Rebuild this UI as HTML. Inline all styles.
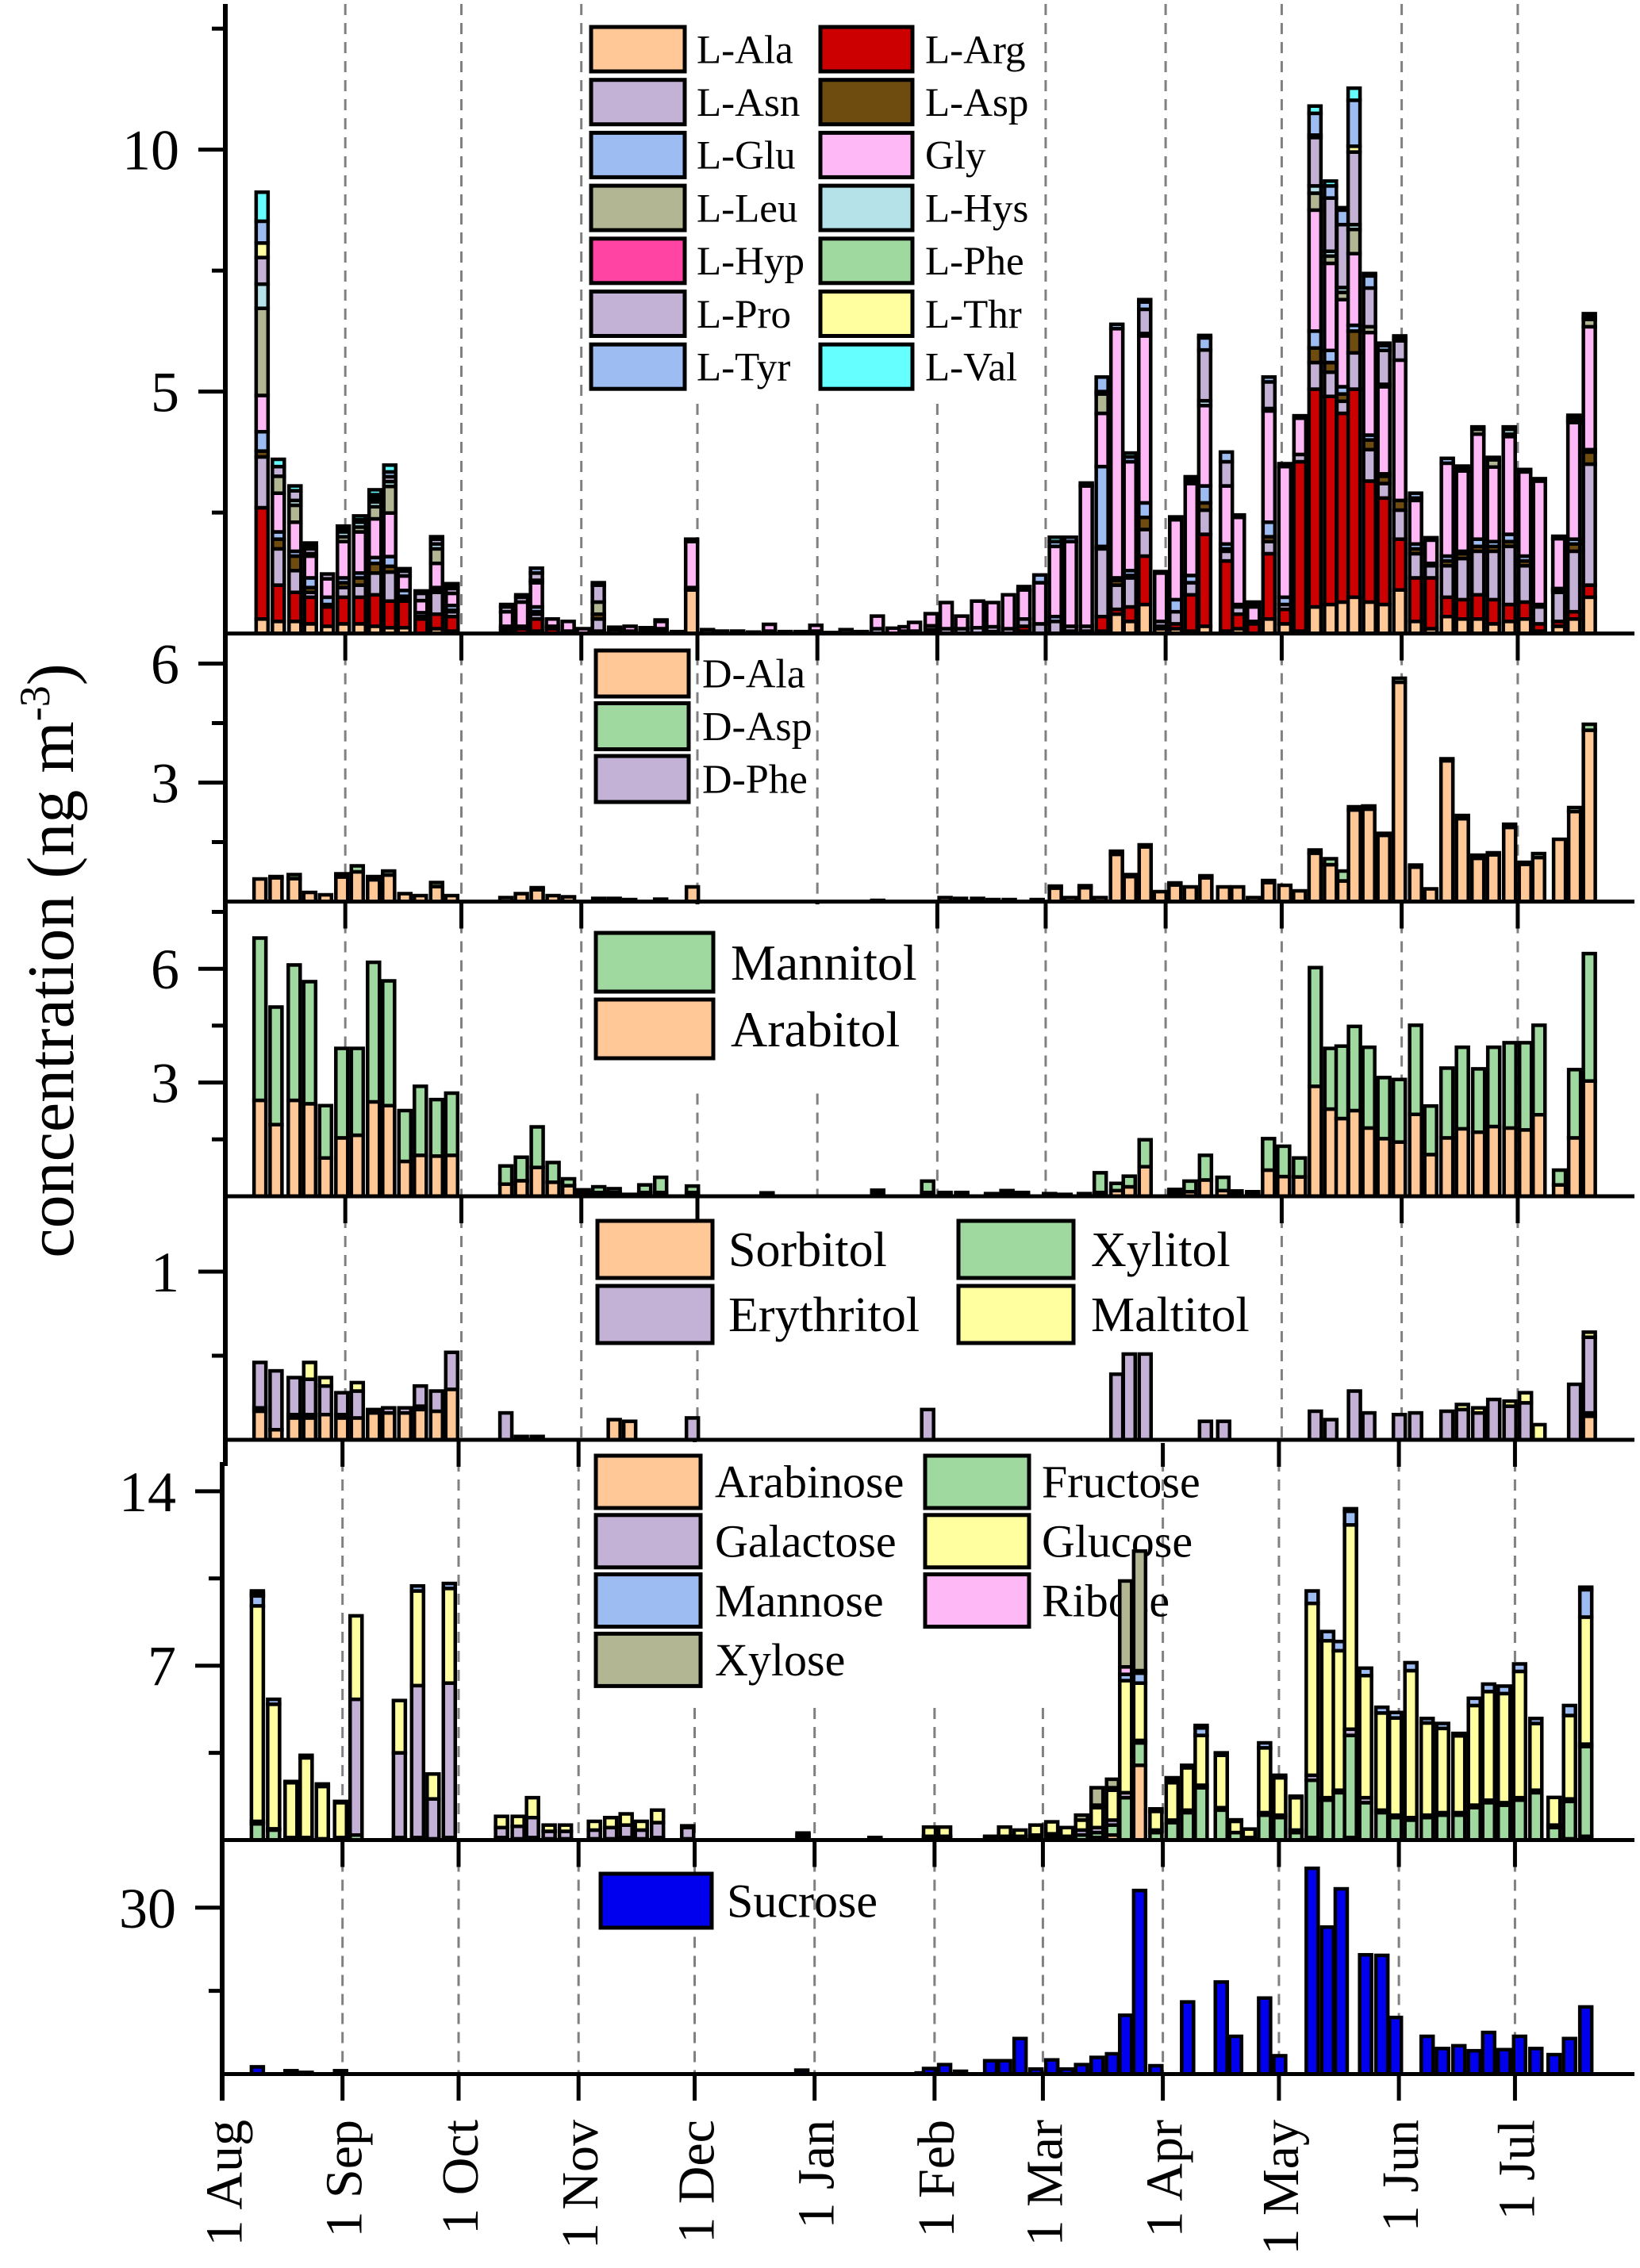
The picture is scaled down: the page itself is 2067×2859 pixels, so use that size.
<!DOCTYPE html>
<html><head><meta charset="utf-8">
<style>
html,body{margin:0;padding:0;background:#fff;}
svg{display:block;font-family:"Liberation Serif",serif;}
</style></head>
<body>
<svg id="chart" xmlns="http://www.w3.org/2000/svg" width="2067" height="2859" viewBox="0 0 2067 2859"></svg>
<script>
// ---------- Panel 1: L-amino acids ----------
const p1Days=[9.5,13.7,18,22,26.4,30.5,34.7,38.7,42.5,46.2,50.6,54.6,58.6, 72.7,76.6,80.4,84.5,88.6,92.5,96.4,100.6,104.6,108.7,112.6,116.8,120.5, 124.6,128.3,132.4,136.5,140.6,144.7,148.8,152.6,156.5,160.4,164.4,168.5,172.6,175.7,178.1,182.4,186.3,190.3,194.4,198.3,202.4, 206.4,210.5,214.5,218.4,222.5,226.6,230.4,233.8,237.6,241.7,245.6,249.6,253.1,258.7,261.8,265.7,269.7,273.8,277.7,281.6,285.6,288.8,291.7,295.7,299.4,303.5,307.6,311.6,315.8,319.7,323.7,327.7,331.8,335.8,339.6,344.6,348.5,352.5];
const lAla=[.3,.25,.25,.2,.15,.2,.2,.15,.12,.12,0,.1,.05, 0,0,.05,0,0,0,0,0,.05,0,0,0,.9, 0,0,0,0,0,0,0,0,0,0,0,0,0,0,0,0,0,0,0,0,0, .05,0,0,.05,.05,.05,.4,.25,.6,.1,.1,.05,.15,.05,.1,0,.3,.2,.05,.55,.6,.65,.75,.65,.6,.9,.25,.1,.35,.3,.3,.2,.25,.3,.05,.15,.3,.75];
const lArg=[2.3,.75,.6,.55,.4,.55,.55,.65,.55,.55,.3,.3,.3, .05,.1,.25,.1,0,0,.05,0,0,.05,0,0,0, 0,0,0,0,0,0,0,0,0,0,0,0,0,0,0,.08,0,0,0,.04,0, .1,0,0,0,0,.3,.1,.3,1.0,.05,.1,.75,1.9,1.45,.3,.2,1.35,.3,3.5,4.5,4.3,3.9,4.3,2.5,2.2,1.05,.9,1.05,.4,.4,.5,.5,.35,.35,.15,.1,.15,.25];
const lAsn=[1.05,.75,.45,.1,0,.2,.25,.45,.6,.05,0,.45,.1, .05,0,.1,.05,.05,0,.25,.08,0,0,.05,0,.05, 0,0,0,0,.05,0,0,.05,0,0,0,.1,0,.05,.05,.08,.1,.1,.12,.1,.1, .15,.2,.25,.1,.1,1.4,.5,.6,.55,.1,.25,.25,.5,.2,.15,.05,.25,.1,.15,.55,.5,.25,.75,.65,.3,.6,.5,.25,.65,.85,.9,1.0,1.2,.75,.35,.6,1.25,2.5];
const lAsp=[.12,.2,.3,.1,.05,.1,.15,.2,.12,.05,.05,.07,.03, 0,0,.05,0,0,0,.1,0,0,0,0,0,0, 0,0,0,0,0,0,0,0,0,0,0,0,0,0,0,0,0,0,0,0,0, 0,0,0,0,0,.05,.1,.05,.25,0,0,0,.15,.05,0,0,.1,0,0,.3,.2,.15,.45,.2,.15,.2,.1,.05,.1,.1,.1,.1,.1,.1,.05,.05,.15,.25];
const lGlu=[.4,.15,.1,.2,.15,.1,.1,.12,.2,.12,.08,.03,.1, .05,.05,.1,0,0,0,0,0,0,0,.05,0,0, 0,0,0,0,0,0,0,0,0,0,0,0,0,0,0,0,0,0,0,0,0, 0,0,.1,0,0,1.65,.05,.1,.3,0,.25,.15,.35,.1,.05,0,.3,.15,0,.35,.25,.15,.12,.1,.05,0,.1,0,.1,.05,.15,.1,.15,.1,0,.03,.1,.05];
const lGly=[.75,.8,.6,.45,.38,.75,.85,.8,.9,.3,.25,.5,.25, .3,.5,.5,.15,.2,.1,0,.05,.1,.07,.15,.04,.95, .08,.05,.05,.03,.14,.04,.04,.12,.02,.08,.04,.26,.11,.09,.18,.25,.54,.26,.55,.5,.7, .6,.85,1.45,1.75,2.9,1.1,5.15,2.25,3.45,1.0,1.65,1.9,1.66,1.2,1.8,.3,2.3,2.7,.75,2.5,1.8,1.8,1.48,2.12,1.8,2.9,.9,.48,1.92,1.66,2.17,1.54,2.02,1.74,2.55,1.03,2.41,2.54];
const lLeu=[1.8,.35,.35,.05,0,.1,.1,.25,.55,0,0,.3,0, 0,0,.05,0,0,0,.25,0,0,0,0,0,0, 0,0,0,0,0,0,0,0,0,0,0,0,0,0,0,0,0,0,0,0,0, 0,0,0,0,0,.4,0,0,0,0,0,0,0,0,0,0,0,0,0,.35,.15,.15,.5,.12,.05,0,.05,0,0,.05,.1,.15,.05,0,0,0,.05,.15];
const lHys=[.5,0,.1,0,0,.1,.1,.1,.1,0,0,.1,0, 0,0,0,0,0,0,0,0,0,0,0,0,0, 0,0,0,0,0,0,0,0,0,0,0,0,0,0,0,0,0,0,0,0,0, 0,0,0,0,0,0,0,0,.05,0,0,0,.1,0,0,0,.05,0,0,.15,.1,.1,.1,0,0,0,0,0,0,0,0,0,.1,0,0,0,0,0];
const lPro=[.55,.2,.2,.1,.1,0,.05,.05,.1,.1,.15,.1,.1, .1,.1,.15,0,0,0,.35,0,0,0,.03,0,.05, 0,0,0,0,0,0,0,0,0,0,0,0,0,0,0,0,0,0,0,0,0, 0,0,0,0,0,0,0,0,.5,0,0,.05,1.05,.5,0,0,.55,0,0,1.0,1.1,1.3,1.5,.8,.7,.4,0,0,0,0,0,0,0,0,0,0,0,0];
const lThr=[.3,0,0,0,0,0,0,.05,0,0,0,0,0, 0,0,0,0,0,0,0,0,0,0,0,0,0, 0,0,0,0,0,0,0,0,0,0,0,0,0,0,0,0,0,0,0,0,0, 0,0,0,0,0,.05,0,0,0,0,0,0,0,0,0,0,0,0,0,.05,0,0,.12,0,0,0,0,0,0,0,0,0,0,0,0,0,0,0];
const lTyr=[.45,0,0,.05,0,.05,0,.05,.1,.05,.05,0,.05, .05,.05,.1,0,0,0,.05,0,0,0,0,0,0, 0,0,0,0,0,0,0,0,0,0,0,0,0,0,0,0,0,0,0,0,0, .07,.16,.1,.09,.06,.3,.09,.1,.15,.03,.06,.05,.25,.2,.05,.05,.1,.06,.05,.45,.25,.3,.95,.25,.1,.05,.1,.05,.1,.05,.05,.05,.05,.05,.05,.05,.05,.05];
const lVal=[.6,.15,.1,.07,0,.07,.08,.1,.14,0,0,.05,.05, 0,0,0,0,0,0,0,0,0,0,0,0,0, 0,0,0,0,0,0,0,0,0,0,0,0,0,0,0,0,0,0,0,0,0, 0,0,.09,0,0,0,0,.08,.05,0,0,.04,.05,0,0,.05,0,0,0,.15,.1,.05,.25,.05,.05,.05,0,0,0,0,0,0,0,0,0,0,.05,.07];

// ---------- Panel 2: D-amino acids ----------
const p2Days=[8.95,13.1,17.8,21.8,25.9,30.1,34.1,38.3,42.2,46.4,50.4,54.6,58.5, 72.5,76.5,80.6,84.7,88.7,96.5,100.5,104.5,112.5,120.7, 168.6, 186,190,194.4,198.4,202.6, 209.8,214.5,218.4,222.2,226.1,230.3,233.8,237.7,241.6,245.4,249.4,253.4,258,261.6,265.7,269.6,273.8,277.6,281.6,285.6,289,291.8,295.5,299.4,303.4,307.6,311.5,315.7,319.7,323.7,327.7,331.9,335.9,339.4,344.8,348.7,352.5];
const dAla=[.57,.6,.58,.23,.17,.62,.75,.55,.67,.2,.15,.38,.15, .1,.2,.3,.15,.12,.08,.08,.05,.06,.37, .03, .1,.08,.08,.05,.05, .05,.34,.1,.35,.1,1.19,.63,1.38,.25,.42,.37,.6,.37,.37,.1,.48,.41,.27,1.22,.93,.52,2.31,2.33,1.67,5.53,.87,.32,3.55,2.09,1.09,1.18,1.87,.94,1.11,1.57,2.27,4.32];
const dAsp=[0,.03,.1,0,0,.08,.15,.08,.1,0,0,.1,0, 0,0,.05,0,0,0,0,0,0,0, 0, 0,0,0,0,0, 0,.05,0,.05,0,.08,.05,.05,0,.05,0,.05,0,0,0,.05,0,0,.08,.15,.25,.08,.08,.05,.1,.05,0,.05,.08,.08,.05,.08,.05,.1,0,.1,.15];

// ---------- Panel 3: Mannitol / Arabitol ----------
const p3Days=[8.95,13.1,17.8,21.8,25.9,30.1,34.1,38.3,42.2,46.4,50.4,54.6,58.5, 72.5,76.5,80.6,84.7,88.7,92.5,96.5,100.5,104.5,108.4,112.5,120.7, 140,168.6, 181.5,186,190.3,198,202,206,213,217,222, 226.1,230.4,233.6,237.7, 245.4,249.3,253.3,257.8,261.2,265.5, 269.6,273.5,277.6,281.7,285.7,288.6,291.8,295.5,299.4,303.4,307.6,311.5,315.7,319.7,323.9,327.8,332,336,339.5,344.8,348.7,352.5];
const arabitol=[2.53,1.89,2.53,2.44,1.01,1.54,1.61,2.49,2.39,.92,1.08,1.06,1.08, .32,.41,.76,.37,.28,.1,.1,.1,.03,.1,.1,.1, .05,.08, .1,.05,.05,.04,.08,.05,.04,.03,.04, .1,.15,.25,.78, .1,.12,.43,.15,.07,.06, .69,.52,.51,2.9,2.3,2.05,2.26,1.8,1.52,1.43,2.16,1.1,1.54,1.78,1.69,1.84,1.8,1.75,2.15,.3,1.54,3.04];
const mannitol=[4.28,3.1,3.57,3.22,1.38,2.36,2.29,3.68,3.29,1.34,1.82,1.49,1.64, .48,.62,1.07,.52,.18,.07,.15,.1,.02,.2,.4,.17, .04,.08, .3,.05,.05,.03,.07,.05,.03,.02,.03, .52,.19,.28,.71, .08,.28,.65,.35,.07,.06, .83,.8,.5,3.13,1.6,1.91,2.22,2.13,1.61,1.65,2.35,1.28,1.84,2.15,1.67,2.09,2.25,2.3,2.36,.39,1.8,3.36];

// ---------- Panel 4: Sorbitol / Xylitol / Erythritol / Maltitol ----------
const p4Days=[8.95,13.1,17.8,21.8,25.9,30.1,34.1,38.3,42.2,46.4,50.4,54.6,58.5, 72.5,76.5,80.6, 100.5,104.5,120.7, 181.5, 230.4,233.6,237.7, 253.3,258, 281.7,285.7,291.8,295.5,303.4,307.6,315.7,319.7,323.9,327.8,332,336,339.5,348.7,352.5];
const sorbitol=[.17,.06,.13,.13,.15,.13,.13,.16,.16,.16,.18,.17,.3, 0,0,0, .12,.11,0, 0, 0,0,0, 0,0, 0,0,0,0,0,0,0,0,0,0,0,0,0,0,.14];
const xylitol=[.02,0,.02,.02,0,.02,0,0,0,0,.02,0,0, 0,0,0, 0,0,0, 0, 0,0,0, 0,0, 0,0,0,0,0,0,0,0,0,0,0,0,0,0,.02];
const erythritol=[.27,.35,.22,.21,.17,.13,.16,.02,.03,.03,.12,.12,.22, .16,.02,.02, 0,0,.13, .18, .39,.51,.51, .11,.11, .17,.12,.29,.16,.15,.16,.17,.18,.16,.24,.2,.22,0,.33,.45];
const maltitol=[0,0,0,.1,.05,0,.05,0,0,0,0,0,0, 0,0,0, 0,0,0, 0, 0,0,0, 0,0, 0,0,0,0,0,0,0,.03,.03,0,.03,.06,.09,0,.03];

// ---------- Panel 5: saccharides ----------
const p5Days=[9.0,13.2,17.7,21.6,25.8,30.5,34.5,45.7,50.4,54.4,58.6, 72.1,76.4,80.1,84.4,88.6,96.1,100.3,104.3,108.2,112.4,120.2, 150,168.6, 182.7,186.6,198.5,202.1,206.1,210.2,214.3,218.2,222,226,230,233.4,237, 241.2,245.4,249.4,252.9,258.1,261.8,265.3,269.3,273.2,277.4, 281.6,285.6,288.6,291.5,295.4,299.6,303.1,307.1,311.3,315.3,319.5,323.5,327.2,331.2,335.2,339.4,344.1,348.1,352.3];
const arabinose=[0,0,0,0,0,0,0,0,0,0,0, 0,0,0,0,0,0,0,0,0,0,0, 0,0, 0,0,0,0,0,0,0,0,0,.1,.2,0,3.0, 0,0,0,0,0,0,0,0,0,0, .1,0,0,.1,0,0,0,0,0,0,0,0,0,0,0,0,0,.05,.15];
const fructose=[.65,.4,.1,.1,.05,.1,.2,.1,.1,.05,.1, .1,.05,.1,.05,.05,.05,.05,.1,.05,.1,.05, .1,.05, .1,.1,.05,.1,.1,.1,.15,.1,.2,.2,.4,1.7,.9, .3,.7,1.1,2.1,1.2,.3,.1,1.0,.9,.3, 2.3,1.6,1.9,4.1,1.5,1.1,.9,.8,.9,1.0,1.0,1.3,1.5,1.4,1.6,1.9,.5,1.5,3.6];
const galactose=[.1,.05,0,0,0,0,5.45,3.4,6.1,1.6,6.2, .4,.5,.8,.3,.3,.35,.45,.5,.35,.6,.45, .1,0, .05,.05,.05,.05,.05,.1,.1,.05,.2,.2,.2,.2,.1, .1,.1,.1,.1,.1,0,0,.1,.1,.1, .2,.1,.1,.25,.2,.1,.1,.1,.1,.1,.1,.1,.1,.1,.1,.1,.1,.1,.1];
const glucose=[8.65,5.0,2.2,3.2,2.1,1.4,3.35,2.1,3.8,1.0,3.8, .45,.4,.8,.25,.25,.35,.4,.45,.35,.5,.07, .08,.05, .37,.37,.05,.37,.25,.4,.48,.35,.4,.8,1.2,4.5,2.3, .75,1.5,1.7,2.0,2.1,.45,.34,2.6,1.5,1.3, 6.9,6.3,5.6,8.2,4.9,3.9,3.9,5.9,3.7,3.38,3.08,4.0,4.36,4.38,5.07,2.68,1.11,3.35,5.1];
const mannose=[.4,.2,.05,.1,.1,.05,0,0,.2,0,.2, 0,0,0,0,0,0,0,0,0,0,0, 0,0, 0,0,0,0,0,0,0,0,0,.1,.1,.25,.4, 0,.1,.1,.3,.1,.06,0,.2,.1,.06, .5,.37,.37,.55,.3,.23,.22,.32,.18,.2,.1,.29,.3,.3,.3,.2,0,.4,1.1];
const ribose=[.1,0,0,0,0,0,0,0,0,0,0, 0,0,0,0,0,0,0,0,0,0,0, 0,0, 0,0,0,0,0,0,0,0,0,0,0,.3,.1, 0,0,0,0,0,0,0,0,0,0, 0,0,0,.1,0,0,0,0,0,0,0,0,0,0,0,0,0,0,.1];
const xylose=[.1,0,0,0,0,0,0,0,0,0,0, 0,0,0,0,0,0,0,0,0,0,0, 0,0, 0,0,0,0,0,0,0,0,.2,.7,.34,3.45,4.8, .1,.1,0,.1,0,0,0,0,0,0, 0,0,0,0,0,0,0,0,0,0,0,0,0,0,0,0,0,0,0];

// ---------- Panel 6: Sucrose ----------
const p6Days=[9.0,17.7,21.6,30.5,149.7,180.8,182.7,186.6,190.7,198.5,202.1,206.1,210.2,214.3,218.2,222,226,230,233.4,237,241.2,249.4,258.1,261.8,269.3,273.2,281.6,285.6,289.1,295.4,299.6,303.1,311.3,315.3,319.5,323.5,327.2,331.2,335.2,339.4,344.1,348.1,352.3];
const sucrose=[1.3,.6,.3,.6,.7,.2,1.0,1.7,.5,2.4,2.4,6.4,.9,2.55,.9,1.7,3.0,3.65,10.6,33.1,1.5,13.0,16.6,6.8,13.7,3.3,37.1,26.5,33.4,21.5,21.4,10.2,6.8,4.6,5.1,4.2,7.5,4.4,6.8,4.6,3.5,6.4,12.1];

// ---------- axis labels ----------
const monthDays=[0,31,61,92,122,153,184,212,243,273,304,334];
const monthLabels=["1 Aug","1 Sep","1 Oct","1 Nov","1 Dec","1 Jan","1 Feb","1 Mar","1 Apr","1 May","1 Jun","1 Jul"];

const NS="http://www.w3.org/2000/svg";
const svg=document.getElementById('chart');
function mk(tag,attrs,parent){const e=document.createElementNS(NS,tag);for(const k in attrs)e.setAttribute(k,attrs[k]);parent.appendChild(e);return e;}

const DAYPX=4.877;
const panels=[
 {id:'l-amino',top:5,base:798.6,k:61,x0:284,majors:[5,10],minors:[2.5,7.5,12.5]},
 {id:'d-amino',top:798.6,base:1136.5,k:50,x0:284,majors:[3,6],minors:[1.5,4.5]},
 {id:'polyol-a',top:1136.5,base:1508,k:47.8,x0:284,majors:[3,6],minors:[1.5,4.5,7.5]},
 {id:'polyol-b',top:1508,base:1815,k:212,x0:284,majors:[1],minors:[0.5]},
 {id:'saccharide',top:1815,base:2319.5,k:31.4,x0:280.5,majors:[7,14],minors:[3.5,10.5]},
 {id:'sucrose',top:2319.5,base:2614.5,k:6.99,x0:280.5,majors:[30],minors:[15]}
];
function xOf(p,day){return p.x0+DAYPX*day;}
function yOf(p,v){return p.base-v*p.k;}

const gDash=mk('g',{},svg);


const gBg=mk('g',{},svg);


const gLeg=mk('g',{},svg);


const gBars=mk('g',{},svg);


const gAxes=mk('g',{},svg);



panels.forEach((p,pi)=>{
  monthDays.forEach((d,mi)=>{
    if(d===0)return;
    const x=xOf(p,d);
    const ln=mk('line',{x1:x,x2:x,y1:p.top+(pi===0?0:2),y2:p.base,stroke:'#808080','stroke-width':3,'stroke-dasharray':'14 10'},gDash);
    
    
    if(pi>0){
      const t=mk('line',{x1:x,x2:x,y1:p.top,y2:p.top+34,stroke:'#000','stroke-width':5},gDash);
      
      
    }
  });
});

[[740,0,560,500],[740,1140,430,230],[740,1545,760,153],[960,1509,540,310],[740,1818,680,328]].forEach((r,i)=>{
  const bg=mk('rect',{x:r[0],y:r[1],width:r[2],height:r[3],fill:'#fff'},gBg);
  
  
});

function legendEntry(x,yc,w,h,color,label,tx,fs,name){
  const g=mk('g',{},gLeg);
  
  
  const r=mk('rect',{x:x,y:yc-h/2,width:w,height:h,fill:color,stroke:'#000','stroke-width':5},g);
  
  
  const t=mk('text',{x:tx,y:yc+fs*0.34,'font-size':fs,fill:'#000'},g);
  t.textContent=label;
  
  
}
const C={peach:'#FFC896',red:'#CC0000',lav:'#C4B1D6',brown:'#6E4C0F',blue:'#9DBDF2',pink:'#FEB8F6',olive:'#B2B692',lcyan:'#B4E2E8',mag:'#FF44A4',green:'#9FD99F',yellow:'#FFFFA0',cyan:'#66FFFF',sucrose:'#0000EE'};
const l1a=[['L-Ala',C.peach],['L-Asn',C.lav],['L-Glu',C.blue],['L-Leu',C.olive],['L-Hyp',C.mag],['L-Pro',C.lav],['L-Tyr',C.blue]];
const l1b=[['L-Arg',C.red],['L-Asp',C.brown],['Gly',C.pink],['L-Hys',C.lcyan],['L-Phe',C.green],['L-Thr',C.yellow],['L-Val',C.cyan]];
l1a.forEach((e,i)=>legendEntry(745,62+i*66.7,118,56,e[1],e[0],878,51,e[0].toLowerCase()));
l1b.forEach((e,i)=>legendEntry(1034,62+i*66.7,116,56,e[1],e[0],1166,51,e[0].toLowerCase()));
[['D-Ala',C.peach],['D-Asp',C.green],['D-Phe',C.lav]].forEach((e,i)=>legendEntry(751,849+i*66.5,117,58,e[1],e[0],885,52,e[0].toLowerCase()));
[['Mannitol',C.green],['Arabitol',C.peach]].forEach((e,i)=>legendEntry(751,1213+i*84,148,74,e[1],e[0],921,64,e[0].toLowerCase()));
[['Sorbitol',C.peach],['Erythritol',C.lav]].forEach((e,i)=>legendEntry(753,1575+i*82,145,72,e[1],e[0],918,62,e[0].toLowerCase()));
[['Xylitol',C.green],['Maltitol',C.yellow]].forEach((e,i)=>legendEntry(1208,1575+i*82,145,72,e[1],e[0],1375,62,e[0].toLowerCase()));
[['Arabinose',C.peach],['Galactose',C.lav],['Mannose',C.blue],['Xylose',C.olive]].forEach((e,i)=>legendEntry(751,1868+i*74.8,132,66,e[1],e[0],901,58,e[0].toLowerCase()));
[['Fructose',C.green],['Glucose',C.yellow],['Ribose',C.pink]].forEach((e,i)=>legendEntry(1166,1868+i*74.8,131,66,e[1],e[0],1313,58,e[0].toLowerCase()));
legendEntry(757,2396,140,68,C.sucrose,'Sucrose',916,60,'sucrose');

function drawStack(p,days,series,colors,names){
  days.forEach((d,i)=>{
    const cx=xOf(p,d);
    let cum=0;
    series.forEach((s,si)=>{
      const v=s[i];
      if(!(v>0))return;
      const y1=yOf(p,cum+v),y0=yOf(p,cum);
      const r=mk('rect',{x:cx-7.5,y:y1,width:15,height:Math.max(0.5,y0-y1),fill:colors[si],stroke:'#000','stroke-width':4.5},gBars);
      
      
      cum+=v;
    });
  });
}
drawStack(panels[0],p1Days,[lAla,lArg,lAsn,lAsp,lGlu,lGly,lLeu,lHys,lPro,lThr,lTyr,lVal],
  [C.peach,C.red,C.lav,C.brown,C.blue,C.pink,C.olive,C.lcyan,C.lav,C.yellow,C.blue,C.cyan],
  ['ala','arg','asn','asp','glu','gly','leu','hys','pro','thr','tyr','val']);
drawStack(panels[1],p2Days,[dAla,dAsp],[C.peach,C.green],['d-ala','d-asp']);
drawStack(panels[2],p3Days,[arabitol,mannitol],[C.peach,C.green],['arabitol','mannitol']);
drawStack(panels[3],p4Days,[sorbitol,xylitol,erythritol,maltitol],[C.peach,C.green,C.lav,C.yellow],['sorbitol','xylitol','erythritol','maltitol']);
drawStack(panels[4],p5Days,[arabinose,fructose,galactose,glucose,mannose,ribose,xylose],[C.peach,C.green,C.lav,C.yellow,C.blue,C.pink,C.olive],['arabinose','fructose','galactose','glucose','mannose','ribose','xylose']);
drawStack(panels[5],p6Days,[sucrose],[C.sucrose],['sucrose']);

const ax1=mk('line',{x1:284,x2:284,y1:5,y2:1848,stroke:'#000','stroke-width':6},gAxes);


const ax2=mk('line',{x1:280,x2:280,y1:1843,y2:2648,stroke:'#000','stroke-width':6},gAxes);


panels.forEach((p,pi)=>{
  const ax=(pi<4)?284:280;
  const bl=mk('line',{x1:ax,x2:2060,y1:p.base,y2:p.base,stroke:'#000','stroke-width':5},gAxes);
  
  
  p.majors.forEach(v=>{
    const y=yOf(p,v);
    const t=mk('line',{x1:ax-34,x2:ax,y1:y,y2:y,stroke:'#000','stroke-width':5},gAxes);
    
    
    const lb=mk('text',{x:ax-58,y:y+25,'font-size':72,'text-anchor':'end',fill:'#000'},gAxes);
    lb.textContent=String(v);
    
    
  });
  p.minors.forEach(v=>{
    const y=yOf(p,v);
    const t=mk('line',{x1:ax-17,x2:ax,y1:y,y2:y,stroke:'#000','stroke-width':5},gAxes);
    
    
  });
});
const pl=panels[5];
monthDays.forEach((d,mi)=>{
  const x=xOf(pl,d);
  const t=mk('line',{x1:x,x2:x,y1:2614.5,y2:2648,stroke:'#000','stroke-width':5},gAxes);
  
  
  const lx=x+24, ly=2672;
  const lb=mk('text',{x:lx,y:ly,'font-size':66,'text-anchor':'end',transform:'rotate(-90 '+lx+' '+ly+')',fill:'#000'},gAxes);
  lb.textContent=monthLabels[mi];
  
  
});
const yt=mk('text',{x:92,y:1211,'font-size':84,'text-anchor':'middle',transform:'rotate(-90 92 1211)',fill:'#000'},gAxes);


const ts1=mk('tspan',{},yt); ts1.textContent='concentration (ng m';
const ts2=mk('tspan',{dy:-30,'font-size':54},yt); ts2.textContent='-3';
const ts3=mk('tspan',{dy:30},yt); ts3.textContent=')';
</script>
</body></html>
